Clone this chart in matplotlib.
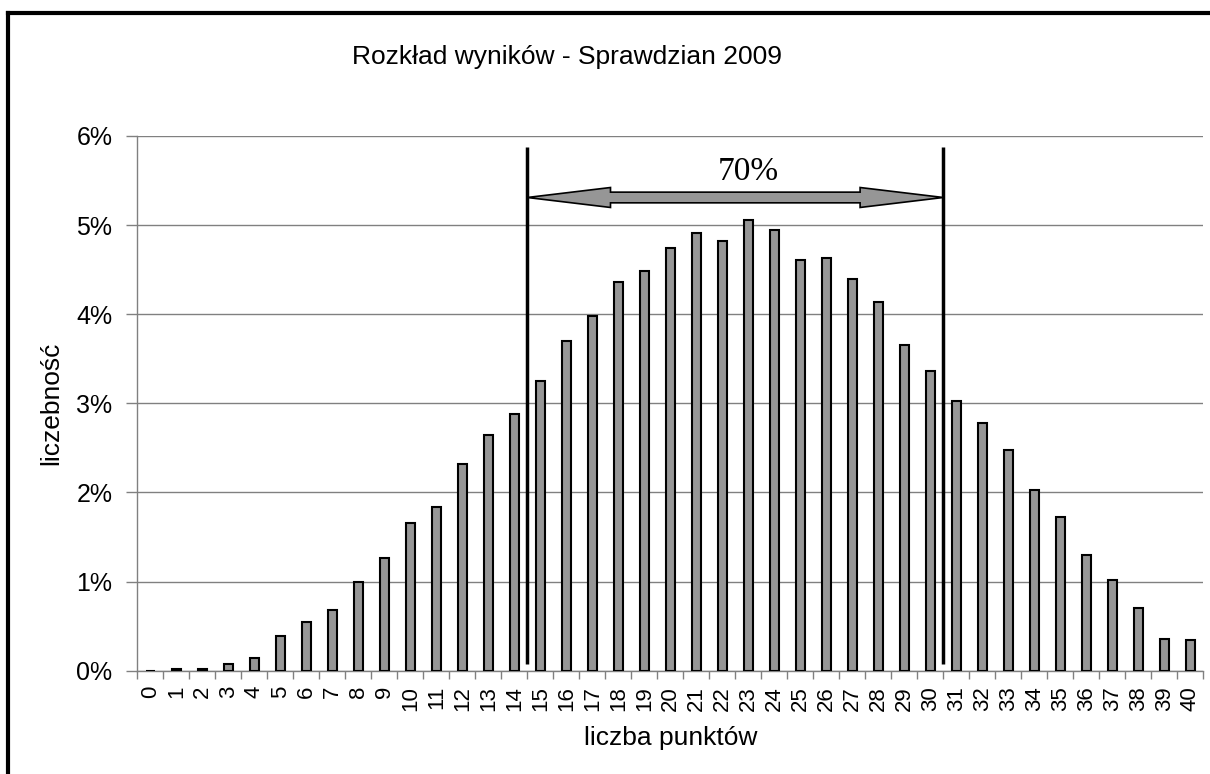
import numpy as np
import matplotlib
matplotlib.use("Agg")
import matplotlib.pyplot as plt
from matplotlib.lines import Line2D
from matplotlib.patches import Polygon

plt.rcParams['font.family'] = ['Liberation Sans', 'DejaVu Sans']

# wyniki (0-40 pkt) i ich udzial procentowy
points = list(range(41))
share = [0.0, 0.02, 0.02, 0.07, 0.14, 0.39, 0.545, 0.68, 1.00, 1.27,
         1.66, 1.84, 2.32, 2.64, 2.88, 3.25, 3.70, 3.98, 4.36, 4.48,
         4.74, 4.91, 4.82, 5.06, 4.95, 4.61, 4.63, 4.39, 4.14, 3.66,
         3.36, 3.03, 2.78, 2.48, 2.03, 1.72, 1.30, 1.02, 0.70, 0.36,
         0.34]

# granice przedzialu 70% i opis
range_lo = 14.5
range_hi = 30.5
range_label = "70%"
yticks = [0, 1, 2, 3, 4, 5, 6]

fig = plt.figure(figsize=(12.1, 7.74), dpi=100)
ax = fig.add_axes([137.3 / 1210, 103.3 / 774, 1066 / 1210, 534.7 / 774])

ax.bar(points, share, width=0.36, color="#969696", edgecolor="black",
       linewidth=1.5, zorder=3)

ax.set_xlim(-0.5, 40.5)
ax.set_ylim(0, 6)
ax.set_yticks(yticks)
ax.set_yticklabels(["%d%%" % t for t in yticks], fontsize=18)
ax.set_xticks(points)
ax.set_xticklabels([str(p) for p in points], rotation=90, fontsize=16)
ax.set_xticks(np.arange(-0.5, 41, 1), minor=True)
ax.tick_params(axis="x", which="major", length=0, pad=11)
ax.tick_params(axis="x", which="minor", length=6, width=1, color="#808080")
ax.tick_params(axis="y", length=8, width=1, color="#808080", pad=10)

ax.grid(axis="y", color="#808080", linewidth=1.0, zorder=0)
ax.set_axisbelow(True)
for s in ["top", "right"]:
    ax.spines[s].set_visible(False)
for s in ["left", "bottom"]:
    ax.spines[s].set_color("#808080")
    ax.spines[s].set_linewidth(1.0)

ax.set_ylabel(u"liczebność", fontsize=19)
ax.yaxis.set_label_coords(-0.0697, 0.5)
ax.set_xlabel(u"liczba punktów", fontsize=19)
ax.xaxis.set_label_coords(0.5, -0.103)

# linie graniczne
ax.vlines([range_lo, range_hi], 0.08, 5.88, color="black", linewidth=2.5,
          zorder=5)

# podwojna strzalka
def double_arrow(x0, x1, y, head_len, head_w, shaft_w):
    pts = [(x0, y), (x0 + head_len, y + head_w), (x0 + head_len, y + shaft_w),
           (x1 - head_len, y + shaft_w), (x1 - head_len, y + head_w),
           (x1, y), (x1 - head_len, y - head_w), (x1 - head_len, y - shaft_w),
           (x0 + head_len, y - shaft_w), (x0 + head_len, y - head_w)]
    return Polygon(pts, closed=True, facecolor="#969696", edgecolor="black",
                   linewidth=1.2, zorder=6)

ax.add_patch(double_arrow(range_lo, range_hi, 5.31, 3.2, 0.112, 0.06))
ax.text(23.0, 5.51, range_label, fontsize=24, family="Liberation Serif",
        ha="center", va="baseline", zorder=7)

fig.text(0.4686, 1 - 64 / 774, u"Rozkład wyników - Sprawdzian 2009",
         fontsize=19, ha="center", va="baseline")

# ramka wykresu
fig.add_artist(Line2D([7.5 / 1210, 7.5 / 1210], [0, 1 - 13 / 774],
                      color="black", linewidth=3))
fig.add_artist(Line2D([7.5 / 1210, 1.0], [1 - 13 / 774, 1 - 13 / 774],
                      color="black", linewidth=3))

fig.savefig("out.png", dpi=100)
